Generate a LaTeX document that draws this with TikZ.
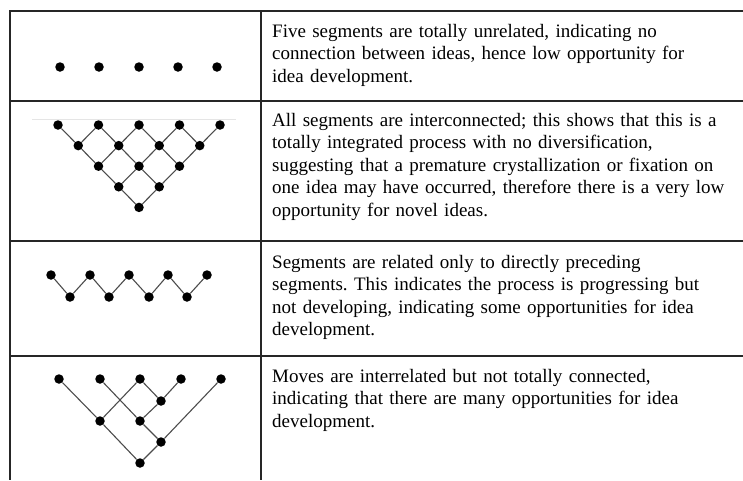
\documentclass[tikz,border=0pt]{standalone}
\usepackage{fontspec}
\setmainfont{Liberation Serif}
\usetikzlibrary{calc}
\tikzset{
  dot/.style={circle, fill=black, inner sep=0pt, minimum size=9.5pt},
  link/.style={line width=1.1pt, color=black!70},
  rule/.style={line width=2pt, color=black!85},
  cell/.style={anchor=base west, inner sep=0pt, text width=465pt, align=left,
    font=\fontsize{19}{22.5}\selectfont\frenchspacing}
}

\begin{document}
\begin{tikzpicture}[x=1pt, y=-1pt]
			%%%%% START %%%%%
			\useasboundingbox (0, 0) rectangle (743, 480);
			
			% table
			\draw[rule] (10, 11) -- (743, 11);
			\draw[rule] (10, 101) -- (743, 101);
			\draw[rule] (10, 241) -- (743, 241);
			\draw[rule] (10, 356) -- (743, 356);
			\draw[rule] (10, 10) -- (10, 480);
			\draw[rule] (261, 10) -- (261, 480);
			
			% row 1: unrelated
			\node[dot] (u1) at (60, 67) {};
			\node[dot] (u2) at (99, 67) {};
			\node[dot] (u3) at (139, 67) {};
			\node[dot] (u4) at (178, 67) {};
			\node[dot] (u5) at (217, 67) {};
			
			% row 2: interconnected
			\draw[line width=0.8pt, color=black!10] (32, 119) -- (236, 119);
			\node[dot] (a00) at (58, 125) {};
			\node[dot] (a01) at (98.5, 125) {};
			\node[dot] (a02) at (139, 125) {};
			\node[dot] (a03) at (179.5, 125) {};
			\node[dot] (a04) at (220, 125) {};
			\node[dot] (a10) at (78.25, 145.6) {};
			\node[dot] (a11) at (118.75, 145.6) {};
			\node[dot] (a12) at (159.25, 145.6) {};
			\node[dot] (a13) at (199.75, 145.6) {};
			\node[dot] (a20) at (98.5, 166.2) {};
			\node[dot] (a21) at (139, 166.2) {};
			\node[dot] (a22) at (179.5, 166.2) {};
			\node[dot] (a30) at (118.75, 186.8) {};
			\node[dot] (a31) at (159.25, 186.8) {};
			\node[dot] (a40) at (139, 207.4) {};
			\draw[link] (a00) -- (a10) -- (a20) -- (a30) -- (a40);
			\draw[link] (a01) -- (a11) -- (a21) -- (a31);
			\draw[link] (a02) -- (a12) -- (a22);
			\draw[link] (a03) -- (a13);
			\draw[link] (a04) -- (a13) -- (a22) -- (a31) -- (a40);
			\draw[link] (a03) -- (a12) -- (a21) -- (a30);
			\draw[link] (a02) -- (a11) -- (a20);
			\draw[link] (a01) -- (a10);
			
			% row 3: zigzag
			\node[dot] (z1) at (51, 275) {};
			\node[dot] (z2) at (70, 297) {};
			\node[dot] (z3) at (90, 275) {};
			\node[dot] (z4) at (109, 297) {};
			\node[dot] (z5) at (129, 275) {};
			\node[dot] (z6) at (149, 297) {};
			\node[dot] (z7) at (168, 275) {};
			\node[dot] (z8) at (187, 297) {};
			\node[dot] (z9) at (207, 275) {};
			\draw[link] (z1) -- (z2) -- (z3) -- (z4) -- (z5) -- (z6) -- (z7) -- (z8) -- (z9);
			
			% row 4: interrelated
			\node[dot] (m1) at (59, 379) {};
			\node[dot] (m2) at (100, 379) {};
			\node[dot] (m3) at (140, 379) {};
			\node[dot] (m4) at (181, 379) {};
			\node[dot] (m5) at (221, 379) {};
			\node[dot] (ma) at (161, 401) {};
			\node[dot] (mb) at (100, 421) {};
			\node[dot] (mc) at (140, 421) {};
			\node[dot] (md) at (161, 442) {};
			\node[dot] (me) at (140, 463) {};
			\draw[link] (m1) -- (mb) -- (me);
			\draw[link] (mb) -- (m3);
			\draw[link] (m2) -- (mc) -- (md);
			\draw[link] (m3) -- (ma);
			\draw[link] (m4) -- (ma) -- (mc);
			\draw[link] (m5) -- (md) -- (me);
			
			% texts
			\node[cell] (t1) at (272, 37) {Five segments are totally unrelated, indicating no\\
				connection between ideas, hence low opportunity for\\
				idea development.};
			\node[cell] (t2) at (272, 126) {All segments are interconnected; this shows that this is a\\
				totally integrated process with no diversification,\\
				suggesting that a premature crystallization or fixation on\\
				one idea may have occurred, therefore there is a very low\\
				opportunity for novel ideas.};
			\node[cell] (t3) at (272, 268) {Segments are related only to directly preceding\\
				segments. This indicates the process is progressing but\\
				not developing, indicating some opportunities for idea\\
				development.};
			\node[cell] (t4) at (272, 382) {Moves are interrelated but not totally connected,\\
				indicating that there are many opportunities for idea\\
				development.};
			
			%%%%% END %%%%%
\end{tikzpicture}
\end{document}
